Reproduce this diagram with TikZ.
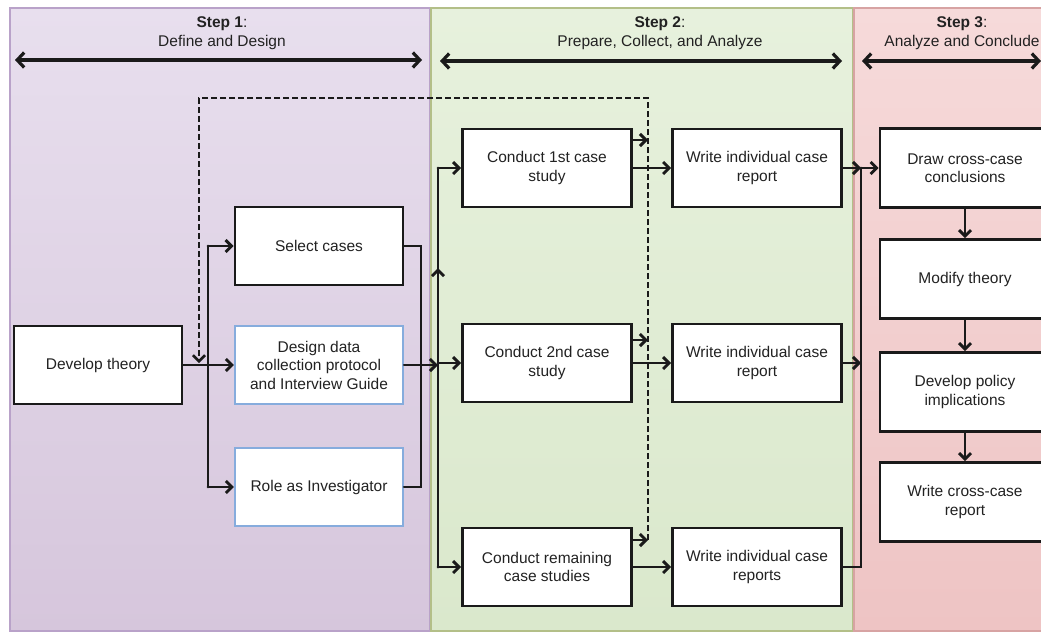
\documentclass[tikz,border=0pt]{standalone}
\usepackage{fontspec}
\setmainfont{Liberation Sans}
\usetikzlibrary{arrows.meta}

\definecolor{ink}{HTML}{1A1A1A}
\definecolor{txt}{HTML}{222222}
\definecolor{boxblue}{HTML}{86ACDD}
\definecolor{pOneTop}{HTML}{E8DFEE}
\definecolor{pOneBot}{HTML}{D6C6DC}
\definecolor{pOneEdge}{HTML}{B9A2C9}
\definecolor{pTwoTop}{HTML}{E7F1DD}
\definecolor{pTwoBot}{HTML}{DAE8CC}
\definecolor{pTwoEdge}{HTML}{B3BF88}
\definecolor{pThrTop}{HTML}{F6DADA}
\definecolor{pThrBot}{HTML}{EEC4C4}
\definecolor{pThrEdge}{HTML}{D7A3A3}

\tikzset{
  stepbox/.style={draw=ink, line width=2.8pt, fill=white, minimum width=168pt,
    minimum height=78pt, align=center, text=txt,
    font=\fontsize{15.5}{18.5}\selectfont, inner sep=2pt},
  bluebox/.style={stepbox, draw=boxblue, line width=2.2pt},
  wire/.style={draw=ink, line width=2.9pt, line cap=round},
  arr/.style={wire, -{Straight Barb[length=6pt,width=12pt]}},
  fb/.style={draw=ink, line width=2.6pt, dash pattern=on 6pt off 3pt,
    -{Straight Barb[length=6pt,width=12pt]}},
  hdr/.style={align=center, text=txt, font=\fontsize{15.5}{18.5}\selectfont},
  span/.style={draw=ink, line width=3.2pt,
    {Straight Barb[length=7pt,width=15pt]}-{Straight Barb[length=7pt,width=15pt]}},
}

\begin{document}
\begin{tikzpicture}[x=1pt,y=-1pt]
\useasboundingbox (0,0) rectangle (1041,633);
\clip (0,0) rectangle (1041,633);

% phase panels
\path[draw=pOneEdge, line width=1.5pt, top color=pOneTop, bottom color=pOneBot]
  (10,8) rectangle (430,631);
\path[draw=pTwoEdge, line width=1.5pt, top color=pTwoTop, bottom color=pTwoBot]
  (431,8) rectangle (853,631);
\path[draw=pThrEdge, line width=1.5pt, top color=pThrTop, bottom color=pThrBot]
  (854,8) rectangle (1060,631);

% phase headers
\node[hdr] (h1) at (222,33) {\textbf{Step 1}:\\Define and Design};
\node[hdr] (h2) at (660,33) {\textbf{Step 2}:\\Prepare, Collect, and Analyze};
\node[hdr] (h3) at (962,33) {\textbf{Step 3}:\\Analyze and Conclude};
\coordinate (a1l) at (15,60);  \coordinate (a1r) at (422,60);
\coordinate (a2l) at (440,61); \coordinate (a2r) at (842,61);
\coordinate (a3l) at (862,61); \coordinate (a3r) at (1041,61);
\draw[span] (a1l) -- (a1r);
\draw[span] (a2l) -- (a2r);
\draw[span] (a3l) -- (a3r);

% step 1 boxes
\node[stepbox] (dev)  at (98,365)  {Develop theory};
\node[stepbox] (sel)  at (319,246) {Select cases};
\node[bluebox] (des)  at (319,365) {Design data\\collection protocol\\and Interview Guide};
\node[bluebox] (role) at (319,487) {Role as Investigator};

% step 2 boxes
\node[stepbox, minimum width=169pt] (c1) at (547,168) {Conduct 1st case\\study};
\node[stepbox, minimum width=169pt] (w1) at (757,168) {Write individual case\\report};
\node[stepbox, minimum width=169pt] (c2) at (547,363) {Conduct 2nd case\\study};
\node[stepbox, minimum width=169pt] (w2) at (757,363) {Write individual case\\report};
\node[stepbox, minimum width=169pt] (c3) at (547,567) {Conduct remaining\\case studies};
\node[stepbox, minimum width=169pt] (w3) at (757,567) {Write individual case\\reports};

% step 3 boxes
\node[stepbox, minimum width=170pt, minimum height=79pt] (drw) at (965,168) {Draw cross-case\\conclusions};
\node[stepbox, minimum width=170pt, minimum height=79pt] (mod) at (965,279) {Modify theory};
\node[stepbox, minimum width=170pt, minimum height=79pt] (pol) at (965,392) {Develop policy\\implications};
\node[stepbox, minimum width=170pt, minimum height=79pt] (wcr) at (965,502) {Write cross-case\\report};

% junction points
\coordinate (j1) at (208,365);
\coordinate (jt) at (208,246);
\coordinate (jb) at (208,487);
\coordinate (kt) at (421,246);
\coordinate (kb) at (421,487);
\coordinate (m2) at (438,365);
\coordinate (mt) at (438,168);
\coordinate (mb) at (438,567);
\coordinate (mup) at (438,268);
\coordinate (n1) at (861,168);
\coordinate (n2) at (861,363);
\coordinate (n3) at (861,567);
\coordinate (d1) at (648,140);
\coordinate (d2) at (648,340);
\coordinate (d3) at (648,540);
\coordinate (dtr) at (648,98);
\coordinate (dtl) at (199,98);
\coordinate (dend) at (199,363);

% step 1 flow
\draw[wire] (dev.east) -- (j1);
\draw[wire] (jt) -- (jb);
\draw[arr] (jt) -- (sel.west);
\draw[arr] (j1) -- (des.west);
\draw[arr] (jb) -- (role.west);
\draw[wire] (sel.east) -- (kt) -- (kb) -- (role.east);
\draw[arr] (des.east) -- (m2);

% into the case studies
\draw[wire] (mb) -- (mt);
\draw[arr] (mb) -- (mup);
\draw[arr] (mt) -- (c1.west);
\draw[arr] (m2 |- c2.west) -- (c2.west);
\draw[arr] (mb) -- (c3.west);

% case study to report
\draw[arr] (c1.east) -- (w1.west);
\draw[arr] (c2.east) -- (w2.west);
\draw[arr] (c3.east) -- (w3.west);

% feedback to theory
\draw[arr] (c1.east |- d1) -- (d1);
\draw[arr] (c2.east |- d2) -- (d2);
\draw[arr] (c3.east |- d3) -- (d3);
\draw[fb] (d3) -- (dtr) -- (dtl) -- (dend);

% reports to cross-case analysis
\draw[arr] (w1.east) -- (n1);
\draw[arr] (w2.east) -- (n2);
\draw[wire] (w3.east) -- (n3) -- (n1);
\draw[arr] (n1) -- (drw.west);

% step 3 chain
\draw[arr] (drw.south) -- (mod.north);
\draw[arr] (mod.south) -- (pol.north);
\draw[arr] (pol.south) -- (wcr.north);
\end{tikzpicture}
\end{document}
